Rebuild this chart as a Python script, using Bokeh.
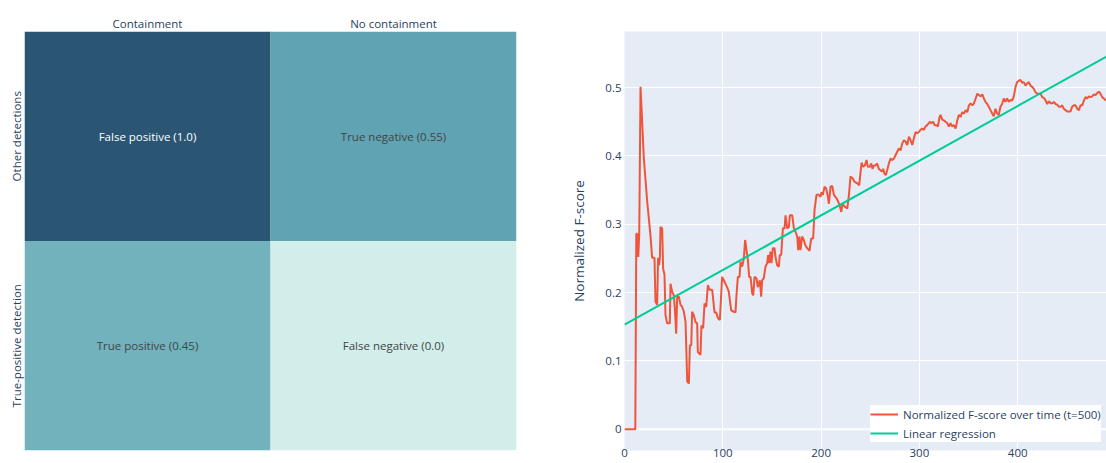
from bokeh.plotting import figure
from bokeh.layouts import row
from bokeh.models import FactorRange, Range1d, FixedTicker, ColumnDataSource, Span
from bokeh.core.properties import value
from bokeh.embed import file_html
from bokeh.resources import INLINE

# ---- confusion-style heatmap data ----
col_labels = ["Containment", "No containment"]
row_labels = ["True-positive detection", "Other detections"]  # bottom to top
cell_col = ["Containment", "No containment", "Containment", "No containment"]
cell_row = ["Other detections", "Other detections",
            "True-positive detection", "True-positive detection"]
cell_value = [1.0, 0.55, 0.45, 0.0]
cell_text = ["False positive (1.0)", "True negative (0.55)",
             "True positive (0.45)", "False negative (0.0)"]

# ---- normalized F-score over time ----
time_steps = [
    0, 11, 12, 13, 14, 15, 16.3, 19.7, 23.1, 26.4, 28.1, 30.5, 31.5, 33.2, 34.2, 35.2, 36.0, 36.6,
    38.3, 39.3, 40.7, 41.7, 43.4, 46.1, 46.8, 48.5, 50.2, 51.2, 52.6, 53.6, 55.3, 57.0, 58.7, 60.4,
    62.1, 63.8, 65.5, 66.5, 67.9, 68.8, 70.5, 72.2, 73.9, 74.6, 77.3, 78.3, 80.0, 81.4, 83.1, 84.8,
    86.5, 89.2, 91.6, 93.2, 95.3, 97.0, 99.3, 101.0, 104.4, 106.1, 108.5, 111.2, 112.9, 113.9, 115.3,
    117.0, 118.0, 119.7, 121.4, 122.7, 124.1, 125.5, 126.8, 128.2, 129.9, 130.9, 132.3, 134.3, 135.6,
    137.7, 139.0, 140.0, 141.7, 143.4, 145.1, 146.1, 147.1, 148.5, 149.5, 150.9, 152.6, 153.6, 155.3,
    157.0, 158.0, 159.4, 161.1, 162.8, 163.8, 165.5, 167.2, 168.2, 170.6, 172.3, 174.0, 175.7, 176.7,
    178.0, 179.0, 180.7, 182.4, 184.1, 185.8, 188.2, 189.9, 191.9, 193.3, 195.3, 197.7, 199.4, 200.4,
    201.8, 203.5, 205.2, 206.9, 207.9, 209.6, 211.3, 213.0, 215.7, 217.4, 219.1, 220.5, 221.8, 223.9,
    226.6, 228.3, 229.9, 232.3, 234.0, 236.7, 238.7, 240.1, 241.1, 242.8, 244.5, 246.2, 247.5, 249.6,
    250.9, 252.3, 253.6, 255.3, 257.0, 258.7, 260.4, 261.8, 263.1, 264.5, 265.9, 267.2, 268.9, 270.6,
    272.3, 274.0, 275.7, 277.4, 279.1, 280.8, 282.5, 284.2, 285.9, 287.6, 289.3, 291.0, 292.7, 294.4,
    296.1, 297.8, 299.4, 301.1, 302.8, 304.5, 306.2, 307.9, 309.6, 310.6, 312.0, 314.0, 315.4, 317.4,
    318.8, 320.5, 321.5, 323.2, 324.9, 326.6, 328.3, 330.0, 331.7, 333.4, 335.1, 336.8, 338.5, 340.2,
    341.9, 343.6, 345.3, 347.0, 348.7, 350.4, 352.1, 353.8, 355.5, 357.2, 358.9, 360.6, 362.3, 364.0,
    365.6, 367.2, 368.9, 370.6, 372.3, 374.0, 375.6, 377.3, 379.0, 380.7, 382.4, 384.1, 385.8, 387.5,
    389.2, 390.9, 392.7, 394.3, 396.0, 397.8, 399.4, 401.1, 402.8, 404.5, 406.2, 407.9, 409.6, 411.3,
    413.0, 414.7, 416.4, 418.1, 419.8, 421.5, 423.2, 424.9, 426.6, 428.3, 430.0, 431.7, 433.4, 435.1,
    436.7, 438.4, 440.1, 441.8, 443.5, 445.2, 446.9, 448.6, 450.3, 452.0, 453.7, 455.4, 457.1, 458.8,
    460.5, 462.2, 463.9, 465.6, 467.3, 469.0, 470.7, 472.4, 474.1, 475.7, 477.4, 479.1, 480.8, 482.5,
    484.2, 485.9, 487.6, 489.7,
]
f_score = [
    0.0, 0.0, 0.286, 0.286, 0.252, 0.286, 0.501, 0.396, 0.333, 0.284, 0.251, 0.251, 0.187, 0.182, 0.251, 0.240, 0.251, 0.296,
    0.294, 0.235, 0.226, 0.167, 0.155, 0.155, 0.213, 0.201, 0.196, 0.177, 0.140, 0.194, 0.194, 0.182, 0.179, 0.172,
    0.157, 0.070, 0.067, 0.123, 0.123, 0.172, 0.167, 0.157, 0.155, 0.113, 0.109, 0.152, 0.148, 0.184, 0.179, 0.211,
    0.204, 0.204, 0.171, 0.171, 0.162, 0.160, 0.223, 0.218, 0.208, 0.201, 0.174, 0.172, 0.171, 0.196, 0.223,
    0.223, 0.245, 0.238, 0.250, 0.277, 0.262, 0.248, 0.223, 0.223, 0.199, 0.196, 0.223, 0.221, 0.208,
    0.218, 0.194, 0.218, 0.221, 0.238, 0.243, 0.255, 0.243, 0.260, 0.243, 0.265, 0.265, 0.252, 0.240,
    0.238, 0.255, 0.255, 0.294, 0.294, 0.313, 0.294, 0.296, 0.313, 0.313, 0.294, 0.289, 0.282, 0.262,
    0.282, 0.262, 0.282, 0.277, 0.269, 0.265, 0.261, 0.279, 0.279, 0.321, 0.343, 0.343, 0.340, 0.347,
    0.343, 0.355, 0.352, 0.340, 0.330, 0.355, 0.356, 0.343, 0.338, 0.333, 0.326, 0.318, 0.330, 0.326,
    0.323, 0.343, 0.370, 0.367, 0.362, 0.360, 0.357, 0.376, 0.390, 0.384, 0.386, 0.394, 0.384, 0.384,
    0.389, 0.381, 0.386, 0.386, 0.389, 0.381, 0.379, 0.377, 0.381, 0.374, 0.372, 0.379, 0.389, 0.396,
    0.394, 0.396, 0.401, 0.406, 0.411, 0.408, 0.418, 0.423, 0.421, 0.416, 0.428, 0.423, 0.416, 0.426,
    0.435, 0.433, 0.435, 0.438, 0.440, 0.438, 0.443, 0.445, 0.448, 0.450, 0.448, 0.450, 0.445, 0.445,
    0.443, 0.457, 0.460, 0.453, 0.452, 0.450, 0.448, 0.443, 0.448, 0.443, 0.445, 0.440, 0.452, 0.460,
    0.457, 0.464, 0.462, 0.467, 0.464, 0.474, 0.477, 0.474, 0.477, 0.484, 0.491, 0.489, 0.487, 0.490,
    0.484, 0.479, 0.476, 0.472, 0.467, 0.462, 0.458, 0.469, 0.462, 0.460, 0.472, 0.476, 0.484, 0.479,
    0.484, 0.479, 0.482, 0.481, 0.487, 0.501, 0.508, 0.510, 0.511, 0.507, 0.508, 0.503, 0.506, 0.508,
    0.503, 0.501, 0.498, 0.493, 0.491, 0.491, 0.491, 0.486, 0.485, 0.481, 0.476, 0.480, 0.477, 0.477,
    0.479, 0.476, 0.475, 0.472, 0.472, 0.474, 0.469, 0.467, 0.465, 0.465, 0.465, 0.472, 0.474, 0.474,
    0.469, 0.467, 0.474, 0.474, 0.481, 0.486, 0.484, 0.487, 0.486, 0.487, 0.490, 0.489, 0.492, 0.494,
    0.491, 0.486, 0.484, 0.481,
]

# fitted linear regression, evaluated at both ends of the time window
regression_t = [0, 500]
regression_f = [0.153, 0.553]

y_ticks = [0, 0.1, 0.2, 0.3, 0.4, 0.5]
x_ticks = [0, 100, 200, 300, 400]

FONT = "Open Sans"
AXIS_TEXT = "#2a3f5f"

# sequential teal colour scale used for the heatmap cells
TEAL = [(209, 238, 234), (168, 219, 217), (133, 196, 201), (104, 171, 184),
        (79, 144, 166), (59, 115, 143), (42, 86, 116)]


def teal_color(v):
    pos = max(0.0, min(1.0, v)) * (len(TEAL) - 1)
    i = min(int(pos), len(TEAL) - 2)
    f = pos - i
    a, b = TEAL[i], TEAL[i + 1]
    r, g, bl = (round(a[k] + (b[k] - a[k]) * f) for k in range(3))
    return "#%02x%02x%02x" % (r, g, bl)


cells = ColumnDataSource(dict(
    col=cell_col,
    row=cell_row,
    color=[teal_color(v) for v in cell_value],
    label=cell_text,
    label_color=["#ffffff" if v > 0.8 else "#444444" for v in cell_value],
))

hm = figure(width=560, height=463,
            x_range=FactorRange(*col_labels), y_range=FactorRange(*row_labels),
            x_axis_location="above", output_backend="svg", toolbar_location=None,
            min_border_left=24, min_border_right=44, min_border_top=31, min_border_bottom=13)
hm.rect(x="col", y="row", width=1, height=1, fill_color="color", line_color=None, source=cells)
hm.text(x="col", y="row", text="label", text_color="label_color", source=cells,
        text_font=value(FONT), text_font_size="11.5px",
        text_align="center", text_baseline="middle")
hm.outline_line_color = None
hm.grid.visible = False
for ax in hm.axis:
    ax.axis_line_color = None
    ax.major_tick_line_color = None
    ax.minor_tick_line_color = None
    ax.major_tick_out = 0
    ax.major_tick_in = 0
    ax.major_label_text_font = FONT
    ax.major_label_text_font_size = "11.5px"
    ax.major_label_text_color = AXIS_TEXT
hm.xaxis.major_label_standoff = 1
hm.yaxis.major_label_standoff = 1
hm.yaxis.major_label_orientation = "vertical"

# ---- time series ----
ts = figure(width=546, height=463,
            x_range=Range1d(0, 490.3), y_range=Range1d(-0.031, 0.582),
            output_backend="svg", toolbar_location=None,
            background_fill_color="#e5ecf6",
            min_border_left=64, min_border_right=0, min_border_top=31, min_border_bottom=13)
ts.outline_line_color = None
ts.grid.grid_line_color = "white"
ts.grid.grid_line_width = 1
ts.xaxis.ticker = FixedTicker(ticks=x_ticks)
ts.yaxis.ticker = FixedTicker(ticks=y_ticks)
ts.yaxis.major_label_overrides = {0: "0"}

zero_line = Span(location=0, dimension="width", line_color="white", line_width=2, level="underlay")
ts.add_layout(zero_line)

ts.line(time_steps, f_score, line_color="#ef553b", line_width=2,
        legend_label="Normalized F-score over time (t=500)")
ts.line(regression_t, regression_f, line_color="#00cc96", line_width=2,
        legend_label="Linear regression")

for ax in ts.axis:
    ax.axis_line_color = None
    ax.major_tick_line_color = None
    ax.minor_tick_line_color = None
    ax.major_tick_out = 0
    ax.major_tick_in = 0
    ax.major_label_text_font = FONT
    ax.major_label_text_font_size = "11.5px"
    ax.major_label_text_color = AXIS_TEXT
ts.xaxis.major_label_standoff = -2
ts.yaxis.major_label_standoff = 3
ts.yaxis.axis_label = "Normalized F-score"
ts.yaxis.axis_label_text_font = FONT
ts.yaxis.axis_label_text_font_size = "13.5px"
ts.yaxis.axis_label_text_font_style = "normal"
ts.yaxis.axis_label_text_color = AXIS_TEXT
ts.yaxis.axis_label_standoff = 14

lg = ts.legend[0]
lg.location = (246, 8)
lg.margin = 0
lg.padding = 4
lg.spacing = 1
lg.glyph_width = 28
lg.glyph_height = 18
lg.label_height = 18
lg.label_standoff = 5
lg.border_line_color = None
lg.background_fill_color = "white"
lg.background_fill_alpha = 1
lg.label_text_font = FONT
lg.label_text_font_size = "11.5px"
lg.label_text_color = AXIS_TEXT

layout = row(hm, ts)
open("out.html", "w").write(file_html(layout, INLINE))
